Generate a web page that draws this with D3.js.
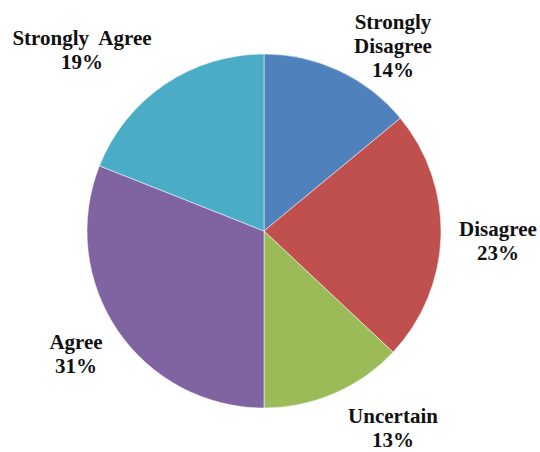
<!DOCTYPE html>
<html>
<head>
<meta charset="utf-8">
<script src="https://cdn.jsdelivr.net/npm/d3@7"></script>
<style>
  html, body { margin: 0; padding: 0; background: #fff; }
</style>
</head>
<body>
<div id="chart"></div>
<script>
// Survey answers, clockwise from 12 o'clock
const categories = ['Strongly Disagree', 'Disagree', 'Uncertain', 'Agree', 'Strongly Agree'];
const percents = [14, 23, 13, 31, 19];
const labelLines = [
  ['Strongly', 'Disagree', '14%'],
  ['Disagree', '23%'],
  ['Uncertain', '13%'],
  ['Agree', '31%'],
  ['Strongly  Agree', '19%']
];
const colors = ['#4f81bd', '#c0504d', '#9bbb59', '#8064a2', '#4bacc6'];

// layout
const width = 540, height = 452;
const cx = 264, cy = 231, radius = 177;
const lineHeight = 24;
// first-line baseline of each label, relative to the pie centre (Excel "best fit")
const labelOffsets = [[129, -202], [234, 5], [129, 192], [-188, 118], [-182, -186]];

const svg = d3.select('#chart')
  .append('svg')
    .attr('width', width)
    .attr('height', height);

const g = svg.append('g').attr('transform', `translate(${cx},${cy})`);

const pie = d3.pie().sort(null).value(d => d);
const arc = d3.arc().innerRadius(0).outerRadius(radius);
const arcs = pie(percents);

const color = d3.scaleOrdinal().domain(categories).range(colors);

g.selectAll('path')
  .data(arcs)
  .join('path')
    .attr('d', arc)
    .attr('fill', (d, i) => color(categories[i]))
    .attr('stroke', '#fff')
    .attr('stroke-width', 0.5);

// labels
const labels = g.selectAll('text.label')
  .data(arcs)
  .join('text')
    .attr('class', 'label')
    .attr('text-anchor', 'middle')
    .attr('font-family', "'Liberation Serif'")
    .attr('font-weight', 'bold')
    .attr('font-size', 21)
    .attr('fill', '#111')
    .style('white-space', 'pre');

labels.each(function (d, i) {
  const [dx, dy] = labelOffsets[i];
  d3.select(this).selectAll('tspan')
    .data(labelLines[i])
    .join('tspan')
      .attr('x', dx)
      .attr('y', (t, j) => dy + j * lineHeight)
      .text(t => t);
});
</script>
</body>
</html>
